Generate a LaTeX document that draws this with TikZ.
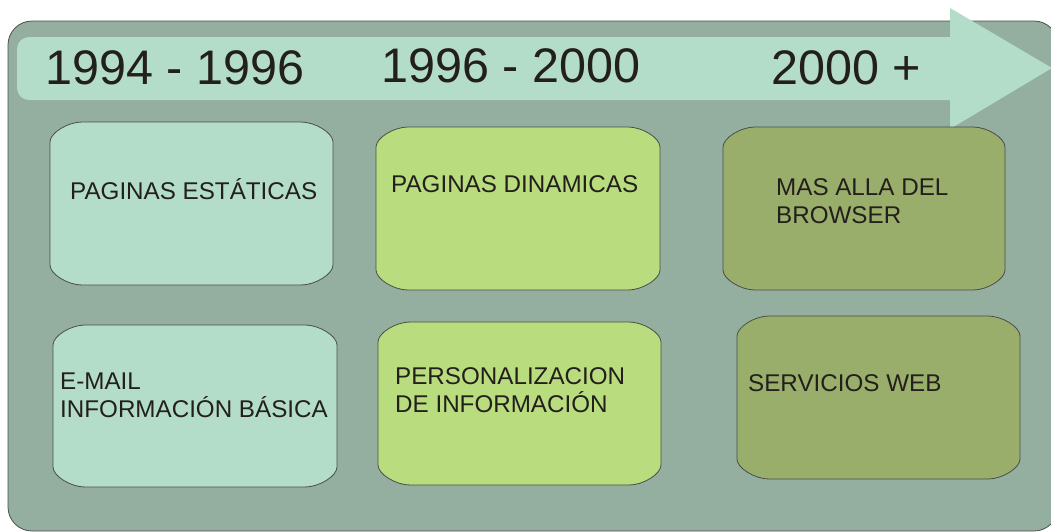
\documentclass[tikz,border=0pt]{standalone}
\usepackage{fontspec}
\setmainfont{Liberation Sans}
\definecolor{bgc}{HTML}{94AE9F}
\definecolor{mint}{HTML}{B3DDC8}
\definecolor{lime}{HTML}{B8DC7E}
\definecolor{olive}{HTML}{98AE6A}
\definecolor{edge}{HTML}{4A4F4A}
\definecolor{ink}{HTML}{231F1C}
\newcommand\ebox[6]{%
  \pgfmathsetmacro\ax{#3}\pgfmathsetmacro\ay{#4}%
  \pgfmathsetmacro\bx{#5}\pgfmathsetmacro\by{#6}%
  \pgfmathsetmacro\rx{32}\pgfmathsetmacro\ry{20}%
  \pgfmathsetmacro\kx{0.45*\rx}\pgfmathsetmacro\ky{0.45*\ry}%
  \fill[#2,draw=edge,line width=0.8pt]
    (\ax,\ay+\ry) .. controls (\ax,\ay+\ry-\ky) and (\ax+\rx-\kx,\ay) .. (\ax+\rx,\ay)
    -- (\bx-\rx,\ay) .. controls (\bx-\rx+\kx,\ay) and (\bx,\ay+\ry-\ky) .. (\bx,\ay+\ry)
    -- (\bx,\by-\ry) .. controls (\bx,\by-\ry+\ky) and (\bx-\rx+\kx,\by) .. (\bx-\rx,\by)
    -- (\ax+\rx,\by) .. controls (\ax+\rx-\kx,\by) and (\ax,\by-\ry+\ky) .. (\ax,\by-\ry)
    -- cycle;
  \coordinate (#1) at (\ax,\ay);}
\tikzset{
  year/.style={text=ink,font=\fontsize{48.5}{52}\selectfont,inner sep=0pt},
  lbl/.style={text=ink,font=\fontsize{24.2}{28}\selectfont,align=left,anchor=west,inner sep=0pt}
}
\begin{document}
\begin{tikzpicture}[x=1pt,y=-1pt]
\useasboundingbox (0,0) rectangle (1051,531);
\begin{scope}
\clip (0,0) rectangle (1051,531);
\fill[bgc,draw=edge,line width=0.8pt,rounded corners=24pt] (8,21) rectangle (1058,531);
\fill[mint,rounded corners=12pt] (950,37) -- (17,37) -- (17,100) -- (950,100);
\fill[mint] (949,37) -- (950,37) -- (950,8) -- (1052,68) -- (950,129) -- (950,100) -- (949,100) -- cycle;
\end{scope}
\node[year] (y1) at (175,68) {1994 - 1996};
\node[year] (y2) at (511,66) {1996 - 2000};
\node[year] (y3) at (846,68) {2000 +};
\ebox{b1}{mint}{50}{122}{333}{285}
\ebox{b2}{lime}{376}{127}{660}{290}
\ebox{b3}{olive}{723}{127}{1005}{290}
\ebox{b4}{mint}{53}{325}{337}{487}
\ebox{b5}{lime}{378}{322}{661}{485}
\ebox{b6}{olive}{737}{316}{1020}{479}
\node[lbl] (t1) at (70,189) {PAGINAS ESTÁTICAS};
\node[lbl] (t2) at (391,184) {PAGINAS DINAMICAS};
\node[lbl] (t3) at (776,201) {MAS ALLA DEL\\BROWSER};
\node[lbl] (t4) at (60,395) {E-MAIL\\INFORMACIÓN BÁSICA};
\node[lbl] (t5) at (395,390) {PERSONALIZACION\\DE INFORMACIÓN};
\node[lbl] (t6) at (748,383) {SERVICIOS WEB};
\end{tikzpicture}
\end{document}
